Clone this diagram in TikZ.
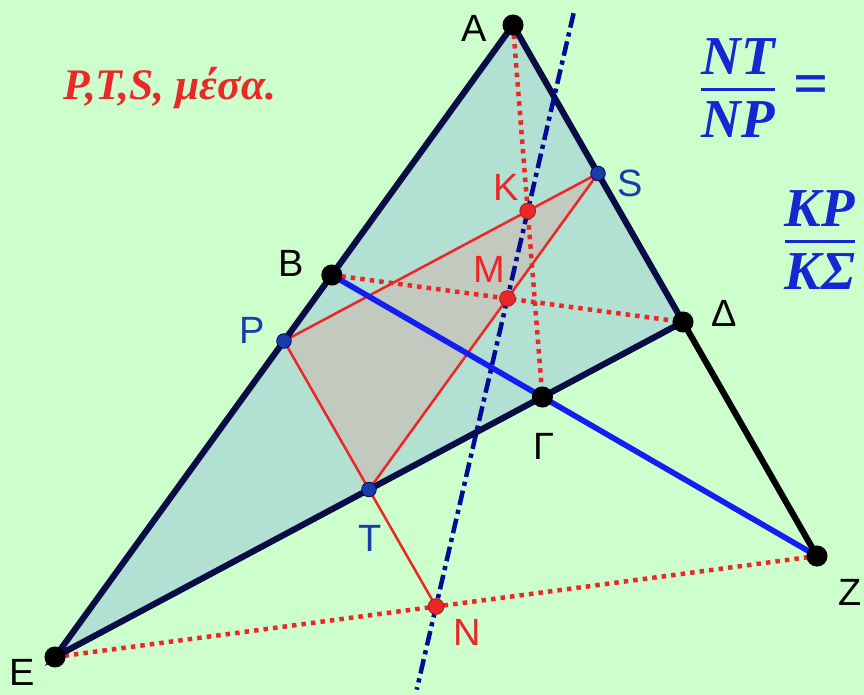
\documentclass[tikz,border=0pt]{standalone}
\usepackage{amsmath}
\usepackage{fontspec}
\setmainfont{Liberation Serif}
\newfontfamily\labfont{Liberation Sans}
\usetikzlibrary{calc}
\definecolor{bggreen}{RGB}{204,255,204}
\definecolor{tealfill}{RGB}{178,224,210}
\definecolor{grayfill}{RGB}{194,202,192}
\definecolor{navy}{RGB}{10,12,70}
\definecolor{linblue}{RGB}{20,30,240}
\definecolor{ptred}{RGB}{235,40,40}
\definecolor{axblue}{RGB}{0,10,150}
\definecolor{ptblue}{RGB}{25,60,170}
\definecolor{txblue}{RGB}{20,40,210}
\begin{document}
\begin{tikzpicture}[x=0.025cm,y=-0.025cm,
	side/.style={line width=4.4pt,navy,line cap=round},
	reddots/.style={ptred,line width=3.2pt,dash pattern=on 3.2pt off 3.6pt},
	redline/.style={ptred,line width=1.8pt},
	lab/.style={font=\labfont\fontsize{27}{30}\selectfont},
	ratio/.style={txblue,font=\bfseries\itshape\fontsize{39}{42}\selectfont}]
	\useasboundingbox[fill=bggreen] (0,0) rectangle (864,695);
	% vertices
	\coordinate (A) at (513,25);
	\coordinate (E) at (55,657);
	\coordinate (D) at (683,322);
	\coordinate (B) at ($(A)!0.3956!(E)$);
	\coordinate (Z) at ($(A)!1.788!(D)$);
	\coordinate (G) at (intersection of B--Z and E--D);
	% midpoints
	\coordinate (P) at ($(A)!0.5!(E)$);
	\coordinate (S) at ($(A)!0.5!(D)$);
	\coordinate (T) at ($(E)!0.5!(D)$);
	\coordinate (K) at (intersection of A--G and P--S);
	\coordinate (M) at (intersection of B--D and T--S);
	\coordinate (N) at (intersection of E--Z and P--T);
	\coordinate (ax1) at ($(N)!1.5!(K)$);
	\coordinate (ax2) at ($(N)!-0.21!(K)$);
	% fills
	\fill[tealfill] (A)--(E)--(D)--cycle;
	\fill[grayfill] (P)--(S)--(T)--cycle;
	% dotted lines
	\draw[reddots] (A)--(G);
	\draw[reddots] (B)--(D);
	\draw[reddots] (E)--(Z);
	% red triangle and N
	\draw[redline] (P)--(S)--(T)--cycle;
	\draw[redline] (T)--(N);
	% sides
	\draw[side] (A)--(E)--(D)--cycle;
	\draw[line width=4.4pt,black,line cap=round] (D)--(Z);
	\draw[line width=4pt,linblue] (B)--(Z);
	\draw[axblue,line width=3.2pt,dash pattern=on 10.5pt off 3.5pt on 3pt off 3.5pt] (ax1)--(ax2);
	% points
	\foreach \p in {A,B,D,G,Z,E} \fill[black] (\p) circle (7.5pt);
	\foreach \p in {P,S,T} \filldraw[fill=ptblue,draw=navy,line width=0.6pt] (\p) circle (5.2pt);
	\foreach \p in {K,M,N} \filldraw[fill=ptred,draw=ptred!70!black,line width=0.6pt] (\p) circle (5.6pt);
	% labels
	\node[lab] (lA) at (474,28) {A};
	\node[lab] (lB) at (291,263) {B};
	\node[lab] (lD) at (724,313) {Δ};
	\node[lab] (lG) at (544,446) {Γ};
	\node[lab] (lZ) at (850,592) {Z};
	\node[lab] (lE) at (22,672) {E};
	\node[lab,ptblue] (lP) at (252,330) {P};
	\node[lab,ptblue] (lS) at (630,183) {S};
	\node[lab,ptblue] (lT) at (370,538) {T};
	\node[lab,ptred] (lK) at (506,187) {K};
	\node[lab,ptred] (lM) at (489,269) {M};
	\node[lab,ptred] (lN) at (467,632) {N};
	% texts
	\node[ptred,font=\bfseries\itshape\fontsize{31}{34}\selectfont] (ttl) at (170,88) {P,T,S, μέσα.};
	\node[ratio] (fr1) at (738,88) {$\genfrac{}{}{2.4pt}{0}{\text{\bfseries\itshape NT}}{\text{\bfseries\itshape NP}}$};
	\node[ratio,anchor=west,inner sep=0pt,font=\bfseries\fontsize{44}{46}\selectfont] (eq) at ($(fr1.east)+(12,2)$) {=};
	\node[ratio,anchor=west] (fr2) at (778,240) {$\genfrac{}{}{2.4pt}{0}{\text{\bfseries\itshape KP}}{\text{\bfseries\itshape KΣ}}$};
\end{tikzpicture}
\end{document}
